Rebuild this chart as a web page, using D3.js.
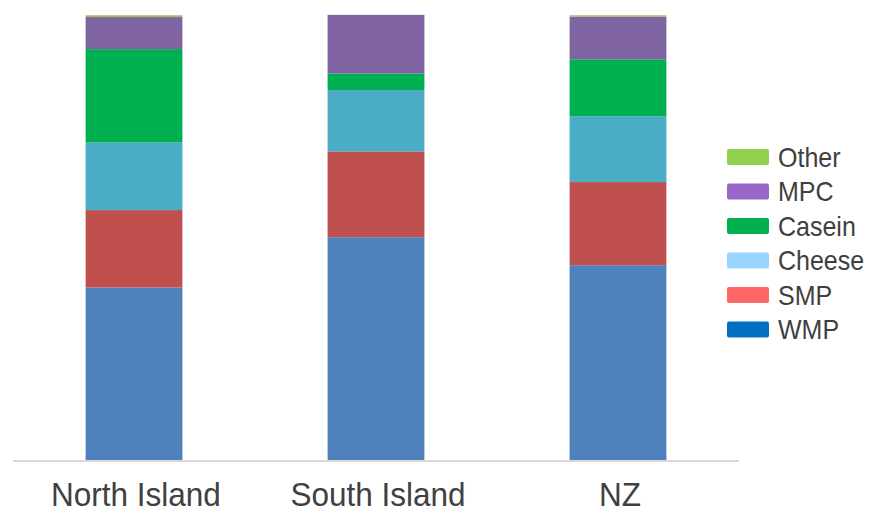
<!DOCTYPE html>
<html>
<head>
<meta charset="utf-8">
<script src="https://cdn.jsdelivr.net/npm/d3@7"></script>
<style>
  body { margin: 0; background: #fff; }
  text { font-family: "Liberation Sans", Arial, sans-serif; fill: #404040; }
</style>
</head>
<body>
<script>
// regions and product shares (fractions of each region's total)
var regions = ["North Island", "South Island", "NZ"];
var products = ["WMP", "SMP", "Cheese", "Casein", "MPC", "Other"];
var wmp    = [0.388, 0.501, 0.438];
var smp    = [0.174, 0.193, 0.187];
var cheese = [0.152, 0.138, 0.148];
var casein = [0.210, 0.037, 0.128];
var mpc    = [0.072, 0.132, 0.096];
var other  = [0.004, 0.000, 0.003];

var barColors = ["#4F81BD", "#C0504D", "#4BACC6", "#00B050", "#8064A2", "#9BBB59"];
var legendColors = ["#0070C0", "#FF6666", "#99D5FF", "#00B050", "#9966CC", "#92D050"];

var rows = regions.map(function(r, i) {
    return { region: r, WMP: wmp[i], SMP: smp[i], Cheese: cheese[i],
             Casein: casein[i], MPC: mpc[i], Other: other[i] };
});

var svg = d3.select("body").append("svg")
    .attr("width", 874)
    .attr("height", 509)

var x = d3.scaleBand()
    .domain(regions)
    .range([13, 739])
    .paddingInner(0.6)
    .paddingOuter(0.3)

var y = d3.scaleLinear()
    .domain([0, 1])
    .range([460, 15.3])

var stack = d3.stack().keys(products)
var series = stack(rows)

svg.selectAll("g.layer")
    .data(series)
    .enter().append("g")
    .attr("class", "layer")
    .attr("fill", function(d, i) { return barColors[i]; })
    .selectAll("rect")
    .data(function(d) { return d; })
    .enter().append("rect")
    .attr("x", function(d) { return x(d.data.region); })
    .attr("y", function(d) { return y(d[1]); })
    .attr("width", x.bandwidth())
    .attr("height", function(d) { return y(d[0]) - y(d[1]); })

// baseline
svg.append("line")
    .attr("x1", 13).attr("x2", 739)
    .attr("y1", 461).attr("y2", 461)
    .attr("stroke", "#d9d9d9")
    .attr("stroke-width", 2)

// category labels (the original text is a bit taller than wide)
svg.selectAll("text.cat")
    .data(regions)
    .enter().append("text")
    .attr("class", "cat")
    .attr("transform", function(d) {
        return "translate(" + (x(d) + x.bandwidth() / 2 + 2) + ",506) scale(1,1.04)";
    })
    .attr("text-anchor", "middle")
    .style("font-size", "31.5px")
    .text(function(d) { return d; })

// legend, top entry is last series
var legendItems = products.slice().reverse();
var ly = d3.scalePoint()
    .domain(legendItems)
    .range([157, 329.5])

var leg = svg.selectAll("g.leg")
    .data(legendItems)
    .enter().append("g")
    .attr("class", "leg")
    .attr("transform", function(d) { return "translate(0," + ly(d) + ")"; })

leg.append("rect")
    .attr("x", 727)
    .attr("y", -8)
    .attr("width", 42)
    .attr("height", 16)
    .attr("rx", 2)
    .attr("fill", function(d) { return legendColors[products.indexOf(d)]; })

leg.append("text")
    .attr("transform", "translate(778,0) scale(1,1.1)")
    .attr("dy", "0.36em")
    .style("font-size", "25px")
    .text(function(d) { return d; })
</script>
</body>
</html>
